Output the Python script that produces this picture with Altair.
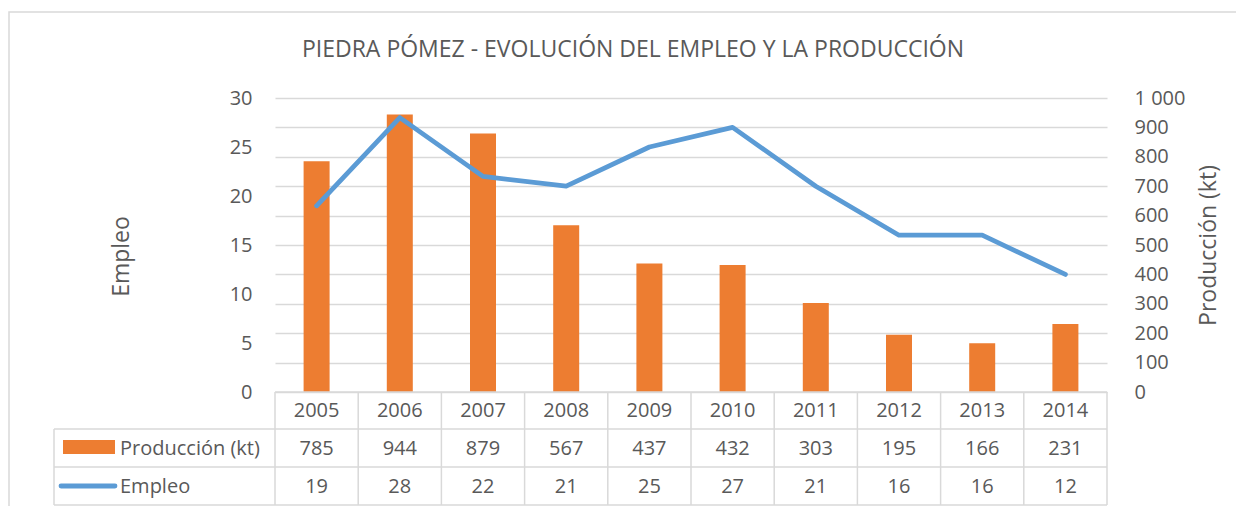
import altair as alt
import pandas as pd

# ---- data ----
years = ["2005", "2006", "2007", "2008", "2009", "2010", "2011", "2012", "2013", "2014"]
produccion = [785, 944, 879, 567, 437, 432, 303, 195, 166, 231]
empleo = [19, 28, 22, 21, 25, 27, 21, 16, 16, 12]
series_names = ["Producción (kt)", "Empleo"]
title_text = "PIEDRA PÓMEZ  - EVOLUCIÓN DEL EMPLEO Y LA PRODUCCIÓN"
prod_ticks = list(range(0, 1001, 100))
emp_ticks = list(range(0, 31, 5))

df = pd.DataFrame({"year": years, "prod": produccion, "emp": empleo})
one = pd.DataFrame({"k": [0]})

W, H = 832, 294
ORANGE = "#ED7D31"
BLUE = "#5B9BD5"
GRID = "#D9D9D9"
TXT = "#595959"
FONT = "Open Sans"

xscale = alt.Scale(paddingInner=0, paddingOuter=0)
xenc = alt.X("year:N", sort=None, scale=xscale, axis=None)

bars = alt.Chart(df).mark_bar(size=26, color=ORANGE).encode(
    x=xenc,
    y=alt.Y(
        "prod:Q",
        scale=alt.Scale(domain=[0, 1000], nice=False),
        axis=alt.Axis(
            orient="right", values=prod_ticks, grid=True, gridColor=GRID, gridWidth=1.3,
            ticks=False, domain=False, labelAlign="left", labelPadding=27,
            labelExpr="replace(format(datum.value, ','), ',', ' ')",
            labelFontSize=20, title=series_names[0], titleAngle=270,
            titleX=101, titleY=147, titleAlign="center", titleBaseline="middle",
            titleFontSize=23,
        ),
    ),
)

line = alt.Chart(df).mark_line(
    color=BLUE, strokeWidth=4.8, strokeCap="round", strokeJoin="round"
).encode(
    x=xenc,
    y=alt.Y(
        "emp:Q",
        scale=alt.Scale(domain=[0, 30], nice=False),
        axis=alt.Axis(
            orient="left", values=emp_ticks, grid=False, ticks=False, domain=False,
            labelPadding=23, labelFontSize=20, title=series_names[1], titleAngle=270,
            titleX=-154, titleY=158, titleAlign="center", titleBaseline="middle",
            titleFontSize=23,
        ),
    ),
)

def txt_row(field, yv):
    return alt.Chart(df).mark_text(fontSize=20, font=FONT, color=TXT).encode(
        x=xenc, y=alt.value(yv), text=field
    )

row_years = txt_row("year:N", 312.5)
row_prod = txt_row("prod:Q", 350.5)
row_emp = txt_row("emp:Q", 388.5)

vlines = alt.Chart(df).mark_rule(color=GRID, strokeWidth=1.5).encode(
    x=alt.X("year:N", sort=None, scale=xscale, axis=None, bandPosition=0),
    y=alt.value(294), y2=alt.value(407),
)

def hrule(x1, x2, yv):
    return alt.Chart(one).mark_rule(color=GRID, strokeWidth=1.5).encode(
        x=alt.value(x1), x2=alt.value(x2), y=alt.value(yv)
    )

def vrule(xv, y1, y2):
    return alt.Chart(one).mark_rule(color=GRID, strokeWidth=1.5).encode(
        x=alt.value(xv), y=alt.value(y1), y2=alt.value(y2)
    )

h0 = hrule(0, W, 294)
h1 = hrule(-221, W, 331)
h2 = hrule(-221, W, 369)
h3 = hrule(-221, W, 407)
v_right = vrule(W, 294, 407)
v_left = vrule(-221, 331, 407)

key_bar = alt.Chart(one).mark_rect(color=ORANGE).encode(
    x=alt.value(-212), x2=alt.value(-160), y=alt.value(342), y2=alt.value(356)
)
key_line = alt.Chart(one).mark_rule(color=BLUE, strokeWidth=4.8, strokeCap="round").encode(
    x=alt.value(-214), x2=alt.value(-160), y=alt.value(388)
)
lab_prod = alt.Chart(one).mark_text(fontSize=20, font=FONT, color=TXT, align="left").encode(
    x=alt.value(-155), y=alt.value(350.5), text=alt.value(series_names[0])
)
lab_emp = alt.Chart(one).mark_text(fontSize=20, font=FONT, color=TXT, align="left").encode(
    x=alt.value(-155), y=alt.value(388.5), text=alt.value(series_names[1])
)

title_mark = alt.Chart(one).mark_text(
    fontSize=23, font=FONT, color=TXT, align="center", baseline="middle"
).encode(x=alt.value(358), y=alt.value(-48), text=alt.value(title_text))

frame = alt.Chart(one).mark_rect(fillOpacity=0, stroke=GRID, strokeWidth=1.5).encode(
    x=alt.value(-266), x2=alt.value(W + 400), y=alt.value(-86), y2=alt.value(H + 400)
)

chart = alt.layer(
    frame, bars, line, h0, h1, h2, h3, vlines, v_right, v_left,
    row_years, row_prod, row_emp, key_bar, key_line, lab_prod, lab_emp, title_mark,
).resolve_scale(y="independent").properties(
    width=W, height=H,
    autosize=alt.AutoSizeParams(type="none"),
    padding={"left": 267, "top": 90, "right": 129, "bottom": 114},
).configure_view(stroke=None).configure_axis(
    labelColor=TXT, labelFont=FONT, titleColor=TXT, titleFont=FONT, titleFontWeight="normal"
)

chart.save("out.html", embed_options={"renderer": "svg", "actions": False})
